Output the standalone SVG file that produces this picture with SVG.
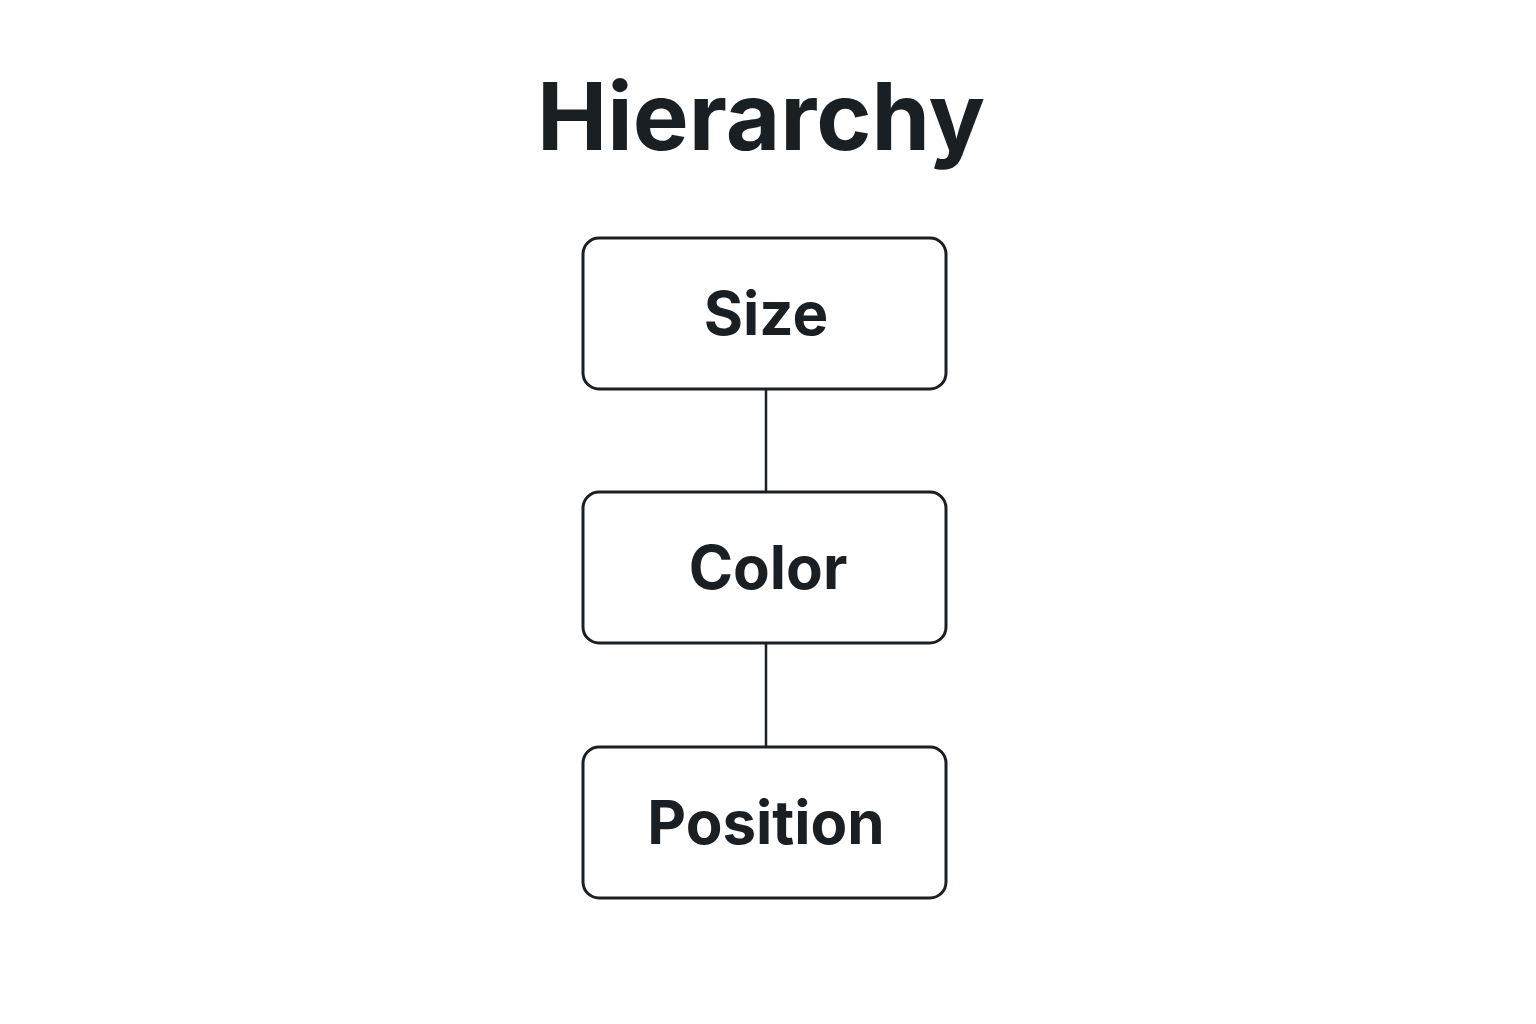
<svg xmlns="http://www.w3.org/2000/svg" width="1536" height="1024" viewBox="0 0 1536 1024">
<style>
.box{fill:#fff;stroke:#1a1f24;stroke-width:3}
.lbl{font-family:Inter,"Liberation Sans",sans-serif;font-weight:700;font-size:60px;fill:#1a1f24;text-anchor:middle}
.conn{stroke:#1a1f24;stroke-width:2.5;fill:none}
</style>
<rect width="1536" height="1024" fill="#fff"/>
<text x="761" y="150" font-family="Inter,'Liberation Sans',sans-serif" font-weight="700" font-size="94" fill="#1a1f24" text-anchor="middle">Hierarchy</text>
<g id="connectors">
<line class="conn" x1="766" y1="389" x2="766" y2="492"/>
<line class="conn" x1="766" y1="643" x2="766" y2="747"/>
</g>
<g id="size"><rect class="box" x="583" y="238" width="363" height="151" rx="16"/><text class="lbl" x="766" y="335">Size</text></g>
<g id="color"><rect class="box" x="583" y="492" width="363" height="151" rx="16"/><text class="lbl" x="768" y="589">Color</text></g>
<g id="position"><rect class="box" x="583" y="747" width="363" height="151" rx="16"/><text class="lbl" x="766" y="844">Position</text></g>
</svg>
